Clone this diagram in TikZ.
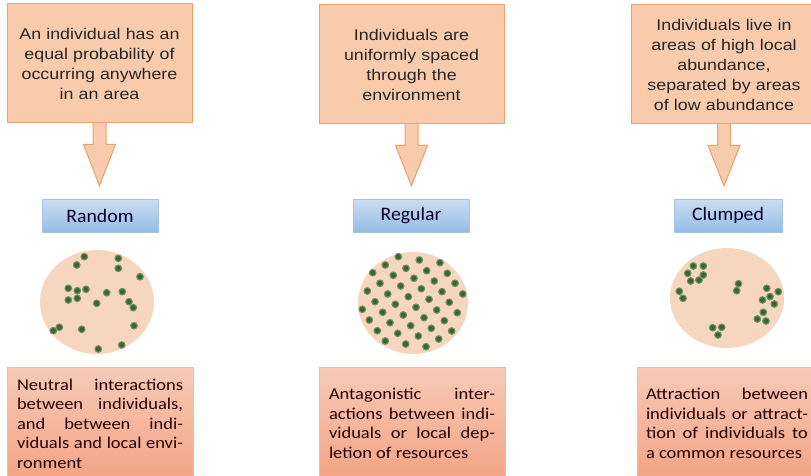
\documentclass[tikz,border=0pt]{standalone}
\usepackage{fontspec}
\usepackage{tikz}
\usetikzlibrary{calc,positioning}

\newfontfamily\topfont[FakeStretch=1.15]{Liberation Sans}
\newfontfamily\notefont[FakeStretch=1.12]{Carlito}
\newfontfamily\typefont[FakeStretch=1.04]{Carlito}

\definecolor{peach}{RGB}{248,203,173}
\definecolor{peachline}{RGB}{238,160,110}
\definecolor{salmontop}{RGB}{247,202,183}
\definecolor{salmonbot}{RGB}{244,163,132}
\definecolor{salmonline}{RGB}{240,185,160}
\definecolor{bluetop}{RGB}{202,222,243}
\definecolor{bluebot}{RGB}{150,189,230}
\definecolor{blueline}{RGB}{165,195,228}
\definecolor{platecol}{RGB}{247,214,192}
\definecolor{dotfill}{RGB}{58,98,52}
\definecolor{dotring}{RGB}{108,148,92}

% one line of a justified paragraph
\newcommand{\jline}[1]{{\spaceskip=0pt\relax\makebox[\hsize][s]{#1}}}
% block arrow from a text box down to a type box
\newcommand{\blockarrow}[2]{%
  \filldraw[bigarrow] ($(#1.south)+(-6.5,-0.5)$) -- ++(0,21.5) -- ++(-9.5,0)
    -- ($(#1.south |- #2.north)+(0,-13)$) -- ($(#1.south)+(16,21)$) -- ++(-9.5,0) -- ++(0,-21.5);}

\begin{document}
\begin{tikzpicture}[x=1pt,y=-1pt,
  topbox/.style={draw=peachline,fill=peach,line width=1pt,minimum width=185pt,minimum height=119pt,
    text width=170pt,align=center,inner sep=0pt,text=black!85,font={\topfont\fontsize{15.5}{20}\selectfont}},
  typebox/.style={draw=blueline,top color=bluetop,bottom color=bluebot,minimum width=116pt,minimum height=33pt,
    inner sep=0pt,text=black!85!blue,font={\typefont\fontsize{19}{22}\selectfont}},
  notebox/.style={draw=salmonline,top color=salmontop,bottom color=salmonbot,minimum width=186pt,minimum height=113pt,
    text width=166pt,align=justify,inner sep=0pt,text=black!85!red,font={\notefont\fontsize{16.5}{19.5}\selectfont}},
  bigarrow/.style={draw=peachline,fill=peach,line width=1pt,line join=miter},
  plate/.style={fill=platecol},
  dot/.style={fill=dotfill,draw=dotring,line width=1.1pt}]
  \path[use as bounding box,fill=white] (0,0) rectangle (811,476);

  \node[topbox] (d1) at (99.5,63.5) {An individual has an\\equal probability of\\occurring anywhere\\in an area};
  \node[topbox] (d2) at (411.5,64.5) {Individuals are\\uniformly spaced\\through the\\environment};
  \node[topbox] (d3) at (724,64.5) {Individuals live in\\areas of high local\\abundance,\\separated by areas\\of low abundance};

  \node[typebox] (t1) at (100,215.5) {Random};
  \node[typebox] (t2) at (411,215.5) {Regular};
  \node[typebox,minimum width=108pt] (t3) at (728,215.5) {Clumped};

  \blockarrow{d1}{t1}
  \blockarrow{d2}{t2}
  \blockarrow{d3}{t3}

  % random
  \fill[plate] (97,302) ellipse [x radius=57, y radius=52];
  \foreach \x/\y in {84.3/256.7,76.7/265,118.3/258.3,118.3/268.3,140/276.7,68.3/288.3,77.3/290.7,
    86/289.3,106.7/292.7,122.3/291.7,68.3/300,77.3/298.3,96.7/303.3,129/301.7,133.3/307.7,
    134/325.7,59.3/327.3,53.3/330.7,81.7/329.3,98.3/349,121.7/345}
    \filldraw[dot] (\x,\y) circle (3.3);

  % regular
  \fill[plate] (413,303) ellipse [x radius=55, y radius=51];
  \foreach \x/\y in {398.3/256.7,419.3/260,440/262.7,385.3/265,406/268.3,426.7/270.7,447.3/273.3,
    372.7/272.7,393.3/275.3,414/278.3,434.3/281,455/283.3,380/283.3,400.7/286,421.3/288.7,
    442/291.7,462.7/294,367.3/291,387.7/294,408.3/296.7,429/299.3,449.3/302.3,375/301.7,
    395.3/304.3,416/307.3,436.7/310,457.3/312.7,362.3/309.3,382.7/312.3,403.3/315,424/317.7,
    444.3/320.7,369.3/320,390/322.7,410.7/325.7,431.3/328.3,451.7/331,377.3/330.7,397.7/333.3,
    418.3/336,438.7/339,385.3/341,405.7/344,426/346.7}
    \filldraw[dot] (\x,\y) circle (3.3);

  % clumped
  \fill[plate] (727,298) ellipse [x radius=57, y radius=50];
  \foreach \x/\y in {693.3/266,703.3/266,687.7/273.3,703.3/275,690.7/281,699/280,
    679.3/291.3,683/298.3,738.5/283.7,736.7/290.7,
    766.7/288.3,778.3/291.7,770/296.5,762.5/300,774.3/304,
    763.3/312.3,757.3/319,766/321,712.7/327.7,721.7/327.3,718/335}
    \filldraw[dot] (\x,\y) circle (3.3);

  \node[notebox] (n1) at (100,423.5) {\jline{Neutral interactions}\\\jline{between individuals,}\\
    \jline{and between indi-}\\\jline{viduals and local envi-}\\ronment};
  \node[notebox] (n2) at (412,423.5) {\jline{Antagonistic inter-}\\\jline{actions between indi-}\\
    \jline{viduals or local dep-}\\letion of resources};
  \node[notebox,minimum width=180pt,text width=162pt] (n3) at (727,423.5) {\jline{Attraction between}\\
    \jline{individuals or attract-}\\\jline{tion of individuals to}\\a common resources};
\end{tikzpicture}
\end{document}
